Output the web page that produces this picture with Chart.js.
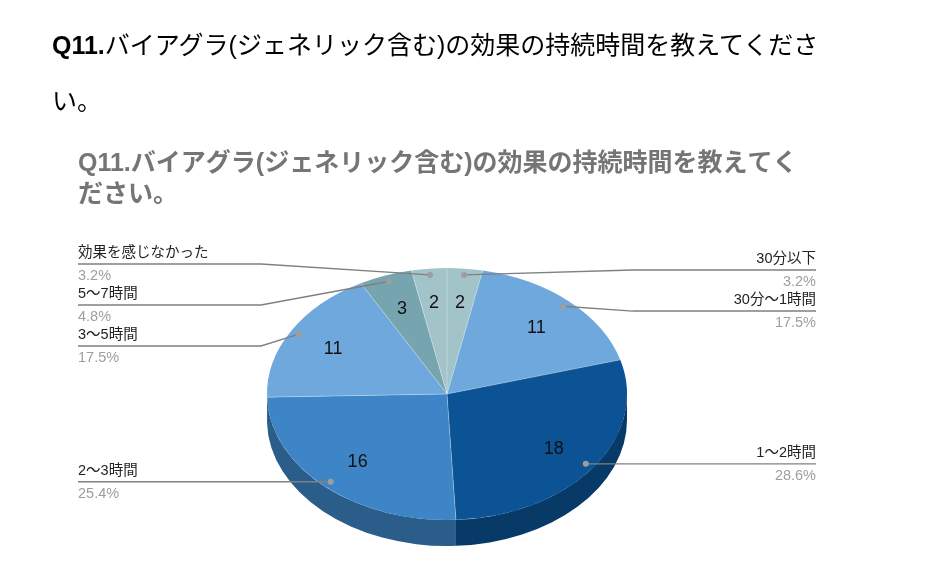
<!DOCTYPE html>
<html lang="ja">
<head>
<meta charset="utf-8">
<title>Q11 持続時間</title>
<script src="https://cdn.jsdelivr.net/npm/chart.js@4.4.1/dist/chart.umd.min.js"></script>
<style>
  html, body { margin: 0; padding: 0; background: #fff; overflow: hidden; }
  #page { position: relative; width: 925px; height: 569px; }
  #heading {
    position: absolute; left: 52px; top: 17px;
    font-family: 'Liberation Sans', 'Noto Sans CJK JP', sans-serif;
    font-size: 25px; line-height: 56px; color: #000;
  }
  #pieChart { position: absolute; left: 0; top: 0; }
</style>
</head>
<body>
<div id="page">
  <canvas id="pieChart" width="925" height="569"></canvas>
  <div id="heading"><b>Q11.</b>バイアグラ(ジェネリック含む)の効果の持続時間を教えてくださ<br>い。</div>
</div>
<script>
// answers, clockwise from 12 o'clock
const categories = ['30分以下', '30分〜1時間', '1〜2時間', '2〜3時間', '3〜5時間', '5〜7時間', '効果を感じなかった'];
const counts = [2, 11, 18, 16, 11, 3, 2];
const sliceColors = ['#a2c4c9', '#6fa8dc', '#0b5394', '#3d85c6', '#6fa8dc', '#76a5af', '#a2c4c9'];

const FONT = "'Liberation Sans', 'Noto Sans CJK JP', sans-serif";
const TILT = 0.7;    // vertical squash of the pie
const DEPTH = 26;    // thickness of the pie, px

function shade(hex, f) {
  const n = parseInt(hex.slice(1), 16);
  const r = Math.round(((n >> 16) & 255) * f);
  const g = Math.round(((n >> 8) & 255) * f);
  const b = Math.round((n & 255) * f);
  return 'rgb(' + r + ',' + g + ',' + b + ')';
}

// pushes labels apart so they keep a minimum gap
function spread(items, gap, minY) {
  items.sort((a, b) => a.ideal - b.ideal);
  let groups = items.map(it => ({ items: [it], y: it.ideal }));
  let merged = true;
  while (merged) {
    merged = false;
    for (let i = 0; i < groups.length - 1; i++) {
      const g = groups[i], h = groups[i + 1];
      if (g.y + g.items.length * gap > h.y) {
        const all = g.items.concat(h.items);
        const y = all.reduce((s, it, k) => s + it.ideal - k * gap, 0) / all.length;
        groups.splice(i, 2, { items: all, y: y });
        merged = true;
        break;
      }
    }
  }
  groups.forEach(g => g.items.forEach((it, k) => { it.y = g.y + k * gap; }));
  let prev = minY - gap;
  items.forEach(it => { it.y = Math.max(it.y, prev + gap); prev = it.y; });
}

const pie3d = {
  id: 'pie3d',
  beforeDatasetsDraw(chart) {
    const ctx = chart.ctx;
    const arcs = chart.getDatasetMeta(0).data;
    const cx = arcs[0].x, cy = arcs[0].y;
    ctx.save();
    ctx.translate(cx, cy);
    ctx.scale(1, TILT);
    // front wall
    arcs.forEach((arc, i) => {
      const a1 = Math.max(arc.startAngle, 0);
      const a2 = Math.min(arc.endAngle, Math.PI);
      if (a2 <= a1) return;
      const r = arc.outerRadius;
      ctx.beginPath();
      ctx.arc(0, 0, r, a1, a2);
      ctx.arc(0, DEPTH / TILT, r, a2, a1, true);
      ctx.closePath();
      ctx.fillStyle = shade(sliceColors[i], 0.7);
      ctx.fill();
    });
    ctx.translate(-cx, -cy);
  },
  afterDatasetsDraw(chart) {
    const ctx = chart.ctx;
    const arcs = chart.getDatasetMeta(0).data;
    const cx = arcs[0].x, cy = arcs[0].y;
    const R = arcs[0].outerRadius;

    // faint slice separators on the top face
    ctx.translate(cx, cy);
    ctx.strokeStyle = 'rgba(255,255,255,0.35)';
    ctx.lineWidth = 1;
    arcs.forEach(arc => {
      ctx.beginPath();
      ctx.moveTo(0, 0);
      ctx.lineTo(Math.cos(arc.startAngle) * R, Math.sin(arc.startAngle) * R);
      ctx.stroke();
    });
    ctx.restore();

    const proj = (a, r) => ({ x: cx + Math.cos(a) * r, y: cy + Math.sin(a) * r * TILT });
    const total = counts.reduce((s, v) => s + v, 0);

    // values inside slices
    ctx.save();
    ctx.font = '18px ' + FONT;
    ctx.fillStyle = '#111';
    ctx.textAlign = 'center';
    ctx.textBaseline = 'middle';
    arcs.forEach((arc, i) => {
      const mid = (arc.startAngle + arc.endAngle) / 2;
      const p = proj(mid, R * 0.73);
      ctx.fillText(String(counts[i]), p.x, p.y + 1);
    });

    // callouts
    const left = [], right = [];
    arcs.forEach((arc, i) => {
      const mid = (arc.startAngle + arc.endAngle) / 2;
      const dot = proj(mid, R * 0.95);
      const item = { i: i, dot: dot, ideal: dot.y };
      (Math.cos(mid) >= 0 ? right : left).push(item);
    });
    const minY = cy - R * TILT - 4;
    spread(left, 41, minY);
    spread(right, 41, minY);

    const area = chart.chartArea;
    const drawSide = (items, isRight) => {
      const elbowX = isRight ? cx + R + 6 : cx - R - 6;
      const endX = isRight ? area.right : area.left;
      items.forEach(it => {
        ctx.strokeStyle = '#808080';
        ctx.lineWidth = 1.4;
        ctx.beginPath();
        ctx.moveTo(it.dot.x, it.dot.y);
        ctx.lineTo(elbowX, it.y);
        ctx.lineTo(endX, it.y);
        ctx.stroke();
        ctx.fillStyle = '#9e9e9e';
        ctx.beginPath();
        ctx.arc(it.dot.x, it.dot.y, 3, 0, Math.PI * 2);
        ctx.fill();
        ctx.textAlign = isRight ? 'right' : 'left';
        ctx.textBaseline = 'middle';
        ctx.font = '14.5px ' + FONT;
        ctx.fillStyle = '#222';
        ctx.fillText(categories[it.i], endX, it.y - 11);
        ctx.fillStyle = '#9e9e9e';
        ctx.fillText((counts[it.i] / total * 100).toFixed(1) + '%', endX, it.y + 12);
      });
    };
    drawSide(left, false);
    drawSide(right, true);
    ctx.restore();
  }
};

new Chart(document.getElementById('pieChart'), {
  type: 'pie',
  data: {
    labels: categories,
    datasets: [{
      data: counts,
      backgroundColor: sliceColors,
      borderWidth: 0,
      clip: false
    }]
  },
  options: {
    responsive: false,
    animation: false,
    radius: 180,
    layout: { padding: { top: 148.5, left: 78, right: 109, bottom: 0 } },
    plugins: {
      legend: { display: false },
      tooltip: { enabled: false },
      title: {
        display: true,
        text: ['Q11.バイアグラ(ジェネリック含む)の効果の持続時間を教えてく', 'ださい。'],
        align: 'start',
        color: '#757575',
        padding: { top: 0, bottom: 8.5 },
        font: { family: FONT, size: 25, weight: 'bold', lineHeight: 1.24 }
      }
    }
  },
  plugins: [pie3d]
});
</script>
</body>
</html>
